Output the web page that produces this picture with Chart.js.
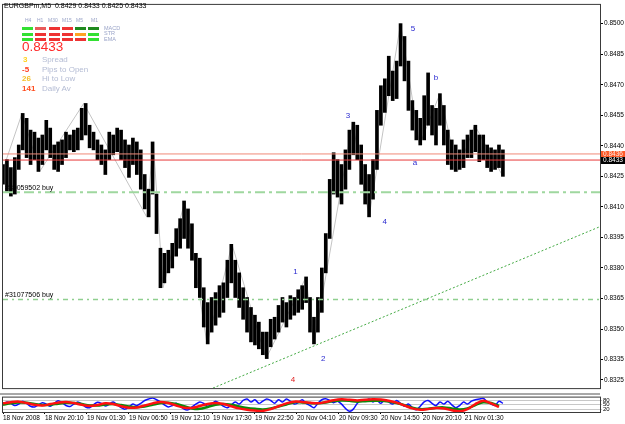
<!DOCTYPE html>
<html>
<head>
<meta charset="utf-8">
<script src="https://cdn.jsdelivr.net/npm/chart.js@4.4.1/dist/chart.umd.min.js"></script>
<style>
  html, body { margin: 0; padding: 0; background: #fff; }
  #wrap { position: relative; width: 625px; height: 424px; overflow: hidden; font-family: "Liberation Sans", Arial, sans-serif; }
  canvas { position: absolute; left: 0; }
  #main { top: 0; }
  #osc { top: 393px; }
  .t { position: absolute; white-space: nowrap; line-height: 1; }
  .cell { position: absolute; width: 11px; height: 3px; }
</style>
</head>
<body>
<div id="wrap">
  <canvas id="main" width="625" height="393"></canvas>
  <canvas id="osc" width="625" height="31"></canvas>
  <div class="t" style="left:4px;top:2px;font-size:7px;color:#000">EURGBPm,M5&nbsp; 0.8429 0.8433 0.8425 0.8433</div>
  <div id="panel"></div>
  <div class="t" style="left:22px;top:40px;font-size:13.5px;color:#ff2a2a">0.8433</div>
  <div class="t" style="left:23px;top:56px;font-size:8px;color:#ffd21e;font-weight:bold">3</div>
  <div class="t" style="left:42px;top:56px;font-size:8px;color:#b4bcd4">Spread</div>
  <div class="t" style="left:22px;top:65.5px;font-size:8px;color:#ff3c1e;font-weight:bold">-5</div>
  <div class="t" style="left:42px;top:65.5px;font-size:8px;color:#b4bcd4">Pips to Open</div>
  <div class="t" style="left:22px;top:75px;font-size:8px;color:#f5c02a;font-weight:bold">26</div>
  <div class="t" style="left:42px;top:75px;font-size:8px;color:#b4bcd4">Hi to Low</div>
  <div class="t" style="left:22px;top:85px;font-size:8px;color:#ff4d1f;font-weight:bold">141</div>
  <div class="t" style="left:42px;top:85px;font-size:8px;color:#b4bcd4">Daily Av</div>
</div>
<script>
// one point = 6 bars of M5 (30 min)
const barStep = 6;
const barHigh = [
  0.84308,0.84332,0.84293,0.84342,0.84404,0.84559,0.84535,0.84477,0.84467,0.84438,
  0.84453,0.84525,0.84487,0.84404,0.84419,0.84429,0.84467,0.84453,0.84477,0.84487,
  0.84584,0.84608,0.84501,0.84467,0.84429,0.84404,0.84380,0.84467,0.84453,0.84487,
  0.84477,0.84429,0.84404,0.84438,0.84419,0.84380,0.84259,0.84187,0.84419,0.84163,
  0.83897,0.83872,0.83887,0.83921,0.83993,0.84042,0.84129,0.84090,0.84017,0.83872,
  0.83848,0.83703,0.83630,0.83655,0.83679,0.83713,0.83727,0.83838,0.83916,0.83838,
  0.83776,0.83703,0.83655,0.83606,0.83568,0.83534,0.83485,0.83485,0.83548,0.83558,
  0.83616,0.83655,0.83630,0.83664,0.83655,0.83693,0.83713,0.83756,0.83655,0.83558,
  0.83655,0.83800,0.83969,0.84235,0.84366,0.84332,0.84308,0.84380,0.84477,0.84516,
  0.84501,0.84404,0.84308,0.84259,0.84332,0.84574,0.84695,0.84729,0.84840,0.84767,
  0.84816,0.85000,0.84937,0.84816,0.84622,0.84574,0.84535,0.84646,0.84758,0.84598,
  0.84584,0.84656,0.84598,0.84477,0.84429,0.84404,0.84380,0.84429,0.84453,0.84477,
  0.84501,0.84453,0.84453,0.84404,0.84390,0.84380,0.84404,0.84380
];
const barLow = [
  0.84211,0.84177,0.84153,0.84163,0.84284,0.84380,0.84342,0.84308,0.84332,0.84274,
  0.84308,0.84380,0.84342,0.84284,0.84274,0.84308,0.84342,0.84380,0.84371,0.84380,
  0.84429,0.84453,0.84390,0.84380,0.84332,0.84308,0.84259,0.84332,0.84356,0.84371,
  0.84332,0.84293,0.84245,0.84308,0.84259,0.84187,0.84090,0.84051,0.84163,0.83969,
  0.83703,0.83727,0.83776,0.83800,0.83858,0.83897,0.83945,0.83897,0.83838,0.83703,
  0.83655,0.83510,0.83427,0.83485,0.83519,0.83558,0.83582,0.83655,0.83727,0.83655,
  0.83606,0.83548,0.83485,0.83437,0.83422,0.83403,0.83374,0.83355,0.83413,0.83451,
  0.83485,0.83534,0.83510,0.83548,0.83568,0.83582,0.83597,0.83630,0.83485,0.83427,
  0.83485,0.83582,0.83776,0.83945,0.84163,0.84148,0.84114,0.84187,0.84284,0.84356,
  0.84332,0.84211,0.84114,0.84051,0.84138,0.84284,0.84501,0.84564,0.84646,0.84622,
  0.84632,0.84792,0.84719,0.84574,0.84477,0.84429,0.84404,0.84429,0.84501,0.84453,
  0.84404,0.84501,0.84404,0.84308,0.84284,0.84274,0.84284,0.84293,0.84342,0.84342,
  0.84371,0.84322,0.84332,0.84293,0.84274,0.84284,0.84293,0.84250
];

const yTicks = [0.8500,0.8485,0.8470,0.8455,0.8440,0.8425,0.8410,0.8395,0.8380,0.8365,0.8350,0.8335,0.8325];
const timeStep = 64;
const timeLabels = ["18 Nov 2008","18 Nov 20:10","19 Nov 01:30","19 Nov 06:50","19 Nov 12:10","19 Nov 17:30",
  "19 Nov 22:50","20 Nov 04:10","20 Nov 09:30","20 Nov 14:50","20 Nov 20:10","21 Nov 01:30"];

const askPrice = 0.8436;
const bidPrice = 0.8433;
const orderNames = ["#30059502 buy", "#31077506 buy"];
const orderPrices = [0.84172, 0.83645];
const trendX = [320, 910];
const trendY = [0.83210, 0.84003];

const zigX = [0,29,56,123,219,229,244,277,311,349,401,462,474,533,558,606,635,666,693,719,762];
const zigY = [0.84284,0.84559,0.84274,0.84608,0.84051,0.84419,0.83703,0.84129,0.83427,0.83916,0.83355,
  0.83756,0.83427,0.84516,0.84051,0.85000,0.84404,0.84656,0.84274,0.84501,0.84250];

const waveText = ["1","2","3","4","5","a","b","4"];
const waveX = [446,488,526,582,625,628,660,442];
const waveY = [0.83780,0.83355,0.84545,0.84027,0.84975,0.84317,0.84733,0.83253];
const waveColor = ["#2a2ad0","#2a2ad0","#2a2ad0","#2a2ad0","#2a2ad0","#2a2ad0","#2a2ad0","#e02020"];

// oscillator panel
const slowStep = 12;
const redLine = [60,68,72,62,50,45,55,65,70,62,50,42,48,60,55,40,30,32,45,60,70,62,45,30,28,42,55,62,55,40,
  25,15,10,8,20,40,60,72,70,65,60,70,82,88,85,80,85,88,86,78,65,45,25,15,20,28,25,12,5,20,55,78,60,35];
const greenLine = [50,60,66,64,55,48,50,58,64,62,55,46,45,52,55,48,38,33,38,50,62,64,55,40,25,22,35,50,56,50,
  38,28,22,18,25,38,52,68,66,62,60,66,76,80,78,72,75,78,78,72,62,48,30,20,22,30,32,25,18,25,48,68,62,42];
const fastStep = 6;
const blueLine = [55,70,60,45,55,75,60,40,35,50,65,55,40,60,78,65,45,38,55,70,55,35,30,50,68,60,42,55,70,50,
  30,20,35,55,45,60,80,90,98,85,70,50,35,45,60,40,20,15,35,55,70,60,40,55,75,60,40,30,50,70,
  55,80,90,70,85,60,75,90,80,60,85,70,90,75,55,65,85,60,45,30,60,85,92,80,65,75,55,25,5,20,
  60,85,75,90,70,80,60,85,70,55,80,60,40,55,30,15,40,70,80,60,45,70,55,75,50,30,45,70,55,75,
  85,90,95,70,55,45,75,60];
const oscLevels = [80, 50, 20];

const xMax = 910;
const yMin = 0.83210, yMax = 0.85092;
const fontFamily = "'Liberation Sans', Arial, sans-serif";

// little trend block at top left
const tfNames = ["H4","H1","M30","M15","M5","M1"];
const tfLeft = [25,37,48,62,76,91];
const rowNames = ["MACD","STR","EMA"];
const cellColors = [
  ["#33e033","#e85a5a","#ee3333","#ee3333","#1f8a1f","#1f8a1f"],
  ["#33e033","#ee3333","#ee3333","#ee3333","#ffa424","#33e033"],
  ["#33e033","#ee3333","#ee3333","#ee3333","#ee3333","#33e033"]
];
const cellLeft = [22,35,49,62,75,88];
const cellTop = [27,32.5,38];

let panel = document.getElementById("panel");
tfNames.forEach((n, i) => {
  let d = document.createElement("div");
  d.className = "t";
  d.style.cssText = "left:" + tfLeft[i] + "px;top:18px;font-size:5px;color:#9aa4c8";
  d.textContent = n;
  panel.appendChild(d);
});
rowNames.forEach((n, r) => {
  let d = document.createElement("div");
  d.className = "t";
  d.style.cssText = "left:104px;top:" + (cellTop[r] - 1.5) + "px;font-size:5.5px;color:#9aa4c8";
  d.textContent = n;
  panel.appendChild(d);
  cellColors[r].forEach((c, i) => {
    let cell = document.createElement("div");
    cell.className = "cell";
    cell.style.left = cellLeft[i] + "px";
    cell.style.top = cellTop[r] + "px";
    cell.style.background = c;
    panel.appendChild(cell);
  });
});

function hline(price, color, width, dash, order) {
  return {
    type: "line",
    data: [{x: 0, y: price}, {x: xMax, y: price}],
    borderColor: color, borderWidth: width, borderDash: dash,
    pointRadius: 0, order: order
  };
}

const framePlugin = {
  id: "frame",
  afterDraw(chart) {
    let ctx = chart.ctx, a = chart.chartArea;
    ctx.save();
    ctx.strokeStyle = "#3a3a3a";
    ctx.lineWidth = 1;
    ctx.strokeRect(a.left - 0.5, a.top - 0.5, a.right - a.left + 1, a.bottom - a.top + 1);
    ctx.restore();
  }
};

const overlayPlugin = {
  id: "overlay",
  afterDatasetsDraw(chart) {
    let ctx = chart.ctx, xs = chart.scales.x, ys = chart.scales.y, a = chart.chartArea;
    ctx.save();
    ctx.font = "8px " + fontFamily;
    ctx.textAlign = "center";
    ctx.textBaseline = "middle";
    waveText.forEach((t, i) => {
      ctx.fillStyle = waveColor[i];
      ctx.fillText(t, xs.getPixelForValue(waveX[i]), ys.getPixelForValue(waveY[i]));
    });
    ctx.font = "7px " + fontFamily;
    ctx.textAlign = "left";
    ctx.textBaseline = "bottom";
    ctx.fillStyle = "#000";
    orderNames.forEach((t, i) => {
      ctx.fillText(t, a.left + 2, ys.getPixelForValue(orderPrices[i]) - 1);
    });
    ctx.restore();
  },
  afterDraw(chart) {
    let ctx = chart.ctx, ys = chart.scales.y, a = chart.chartArea;
    ctx.save();
    ctx.font = "6.5px " + fontFamily;
    ctx.textBaseline = "middle";
    ctx.textAlign = "left";
    [[askPrice, "#ff5a28", "#ffe8e0"], [bidPrice, "#000", "#fff"]].forEach(p => {
      let y = Math.round(ys.getPixelForValue(p[0]));
      ctx.fillStyle = p[1];
      ctx.fillRect(a.right + 1, y - 3, 24, 7);
      ctx.fillStyle = p[2];
      ctx.fillText(p[0].toFixed(4), a.right + 3, y + 0.5);
    });
    ctx.restore();
  }
};

new Chart(document.getElementById("main"), {
  type: "bar",
  data: {
    datasets: [
      {
        type: "bar",
        data: barHigh.map((h, i) => ({x: i * barStep, y: [barLow[i], h]})),
        backgroundColor: "#000",
        barThickness: 3,
        order: 2
      },
      {
        type: "line",
        data: zigX.map((x, i) => ({x: x, y: zigY[i]})),
        borderColor: "#c4c4c4", borderWidth: 1, pointRadius: 0, order: 5
      },
      hline(askPrice, "#f08a78", 1, [], 0),
      hline(bidPrice, "#e83a3a", 1, [], 0),
      hline(orderPrices[0], "#9fd79f", 2, [10, 4, 3, 4], 0),
      hline(orderPrices[1], "#8fcf8f", 1.5, [5, 4, 2, 4], 0),
      {
        type: "line",
        data: trendX.map((x, i) => ({x: x, y: trendY[i]})),
        borderColor: "#44aa44", borderWidth: 1, borderDash: [2, 2], pointRadius: 0, order: 0
      }
    ]
  },
  options: {
    responsive: false,
    animation: false,
    devicePixelRatio: 1,
    layout: {padding: {left: 3, top: 3, right: 0, bottom: 1}},
    plugins: {legend: {display: false}, tooltip: {enabled: false}},
    scales: {
      x: {type: "linear", min: 0, max: xMax, offset: false, display: false, grid: {offset: false}},
      y: {
        position: "right", min: yMin, max: yMax,
        afterBuildTicks: axis => { axis.ticks = yTicks.map(v => ({value: v})); },
        afterFit: axis => { axis.width = 25; },
        ticks: {
          autoSkip: false, padding: 1, color: "#000",
          font: {family: fontFamily, size: 6.5},
          callback: v => v.toFixed(4)
        },
        grid: {drawOnChartArea: false, tickLength: 3, color: "#000"},
        border: {color: "#3a3a3a"}
      }
    }
  },
  plugins: [framePlugin, overlayPlugin]
});

const sepPlugin = {
  id: "sep",
  beforeDraw(chart) {
    let ctx = chart.ctx;
    ctx.save();
    ctx.fillStyle = "#a8a8a8";
    ctx.fillRect(0, 0, chart.chartArea.right, 2);
    ctx.restore();
  }
};

new Chart(document.getElementById("osc"), {
  type: "line",
  data: {
    datasets: [
      {data: redLine.map((v, i) => ({x: i * slowStep, y: v})), borderColor: "#ff1010", borderWidth: 2.5, pointRadius: 0, tension: 0.3},
      {data: greenLine.map((v, i) => ({x: i * slowStep, y: v})), borderColor: "#0a8a0a", borderWidth: 2.5, pointRadius: 0, tension: 0.3},
      {data: blueLine.map((v, i) => ({x: i * fastStep, y: v})), borderColor: "#1010ff", borderWidth: 1.5, pointRadius: 0, tension: 0.3}
    ]
  },
  options: {
    responsive: false,
    animation: false,
    devicePixelRatio: 1,
    layout: {padding: {left: 3, top: 3, right: 0, bottom: 0}},
    plugins: {legend: {display: false}, tooltip: {enabled: false}},
    scales: {
      x: {
        type: "linear", min: 0, max: xMax,
        afterBuildTicks: axis => { axis.ticks = timeLabels.map((_, k) => ({value: k * timeStep})); },
        afterFit: axis => { axis.height = 12; },
        ticks: {
          autoSkip: false, maxRotation: 0, align: "start", padding: 0, color: "#000",
          font: {family: fontFamily, size: 6.5},
          callback: (v, i) => timeLabels[i]
        },
        grid: {drawOnChartArea: false, tickLength: 2, color: "#000"},
        border: {color: "#3a3a3a"}
      },
      y: {
        position: "right", min: 0, max: 100,
        afterBuildTicks: axis => { axis.ticks = oscLevels.map(v => ({value: v})); },
        afterFit: axis => { axis.width = 25; },
        ticks: {autoSkip: false, padding: 1, color: "#000", font: {family: fontFamily, size: 6}},
        grid: {color: "#c8c8c8", tickLength: 2},
        border: {color: "#3a3a3a", dash: []}
      }
    }
  },
  plugins: [sepPlugin, framePlugin]
});
</script>
</body>
</html>
